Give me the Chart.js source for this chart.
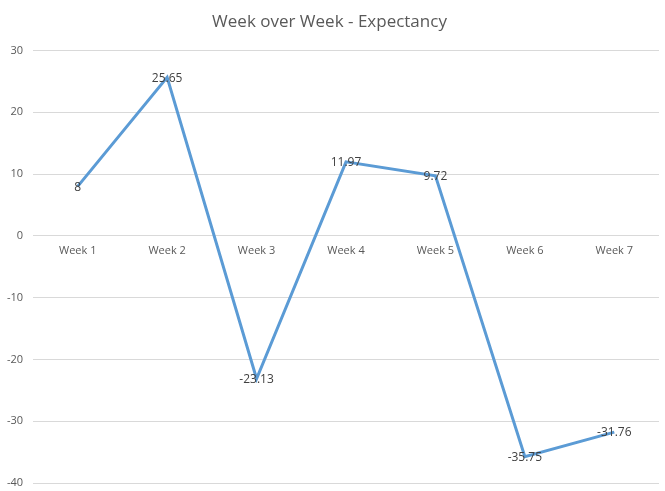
<!DOCTYPE html>
<html lang="en">
<head>
  <meta charset="UTF-8">
  <title>Week over Week - Expectancy</title>
  <script src="https://cdn.jsdelivr.net/npm/chart.js"></script>
  <style>
    body {
      margin: 0;
      background: white;
    }
    .chart-wrap {
      position: relative;
      width: 665px;
      height: 491px;
    }
  </style>
</head>
<body>
  <div class="chart-wrap">
    <canvas id="lineChart"></canvas>
  </div>

  <script>
    const weeks = ['Week 1', 'Week 2', 'Week 3', 'Week 4', 'Week 5', 'Week 6', 'Week 7'];
    const expectancy = [8, 25.65, -23.13, 11.97, 9.72, -35.75, -31.76];
    const yTicks = [30, 20, 10, 0, -10, -20, -30, -40];

    const fontFamily = "'Open Sans', 'Noto Sans', sans-serif";

    // value labels sit right on top of each point, like Excel's "center" labels
    const pointLabels = {
      id: 'pointLabels',
      afterDatasetsDraw(chart) {
        const ctx = chart.ctx;
        const meta = chart.getDatasetMeta(0);
        ctx.save();
        ctx.font = '12px ' + fontFamily;
        ctx.fillStyle = '#404040';
        ctx.textAlign = 'center';
        ctx.textBaseline = 'middle';
        meta.data.forEach((pt, i) => {
          ctx.fillText(String(expectancy[i]), pt.x, pt.y + 1);
        });
        ctx.restore();
      }
    };

    new Chart(document.getElementById('lineChart'), {
      type: 'line',
      data: {
        labels: weeks,
        datasets: [{
          label: 'Expectancy',
          data: expectancy,
          borderColor: '#5B9BD5',
          borderWidth: 3,
          pointRadius: 0,
          tension: 0,
          fill: false
        }]
      },
      options: {
        responsive: true,
        maintainAspectRatio: false,
        animation: false,
        layout: {
          padding: { left: 0, right: 6, top: 0, bottom: 8 }
        },
        plugins: {
          legend: { display: false },
          tooltip: { enabled: false },
          title: {
            display: true,
            text: 'Week over Week - Expectancy',
            color: '#595959',
            font: { family: fontFamily, size: 17, weight: 'normal' },
            padding: { top: 12, bottom: 18 }
          }
        },
        scales: {
          x: {
            type: 'category',
            position: { y: 0 },
            offset: true,
            grid: { display: false },
            border: { display: false },
            ticks: {
              color: '#595959',
              font: { family: fontFamily, size: 11 },
              padding: 0
            }
          },
          y: {
            min: -40,
            max: 30,
            afterBuildTicks(scale) {
              scale.ticks = yTicks.map(v => ({ value: v }));
            },
            afterFit(scale) {
              scale.width = 33;
              scale.paddingTop = 0;
              scale.paddingBottom = 0;
            },
            grid: {
              color: '#d9d9d9',
              drawTicks: false
            },
            border: { display: false },
            ticks: {
              color: '#595959',
              font: { family: fontFamily, size: 11 },
              padding: 10
            }
          }
        }
      },
      plugins: [pointLabels]
    });
  </script>
</body>
</html>
